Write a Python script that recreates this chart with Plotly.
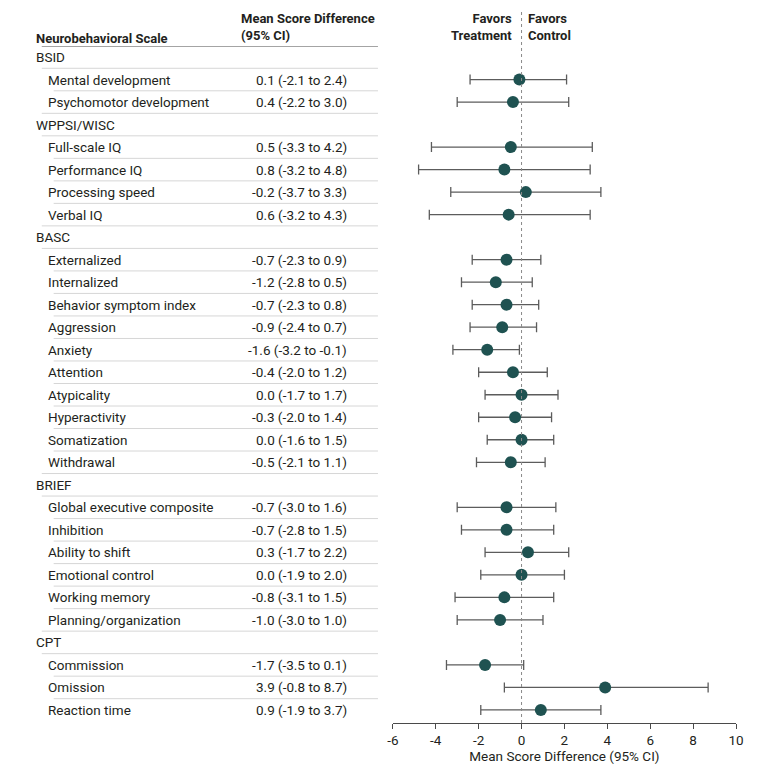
import plotly.graph_objects as go

# ---------------- data ----------------
group_names = ["BSID", "WPPSI/WISC", "BASC", "BRIEF", "CPT"]
# direction in which a group's differences are drawn on the axis (cognitive scores reversed)
group_plot_sign = [-1, -1, 1, 1, 1]

scale_labels = [
    "Mental development", "Psychomotor development",
    "Full-scale IQ", "Performance IQ", "Processing speed", "Verbal IQ",
    "Externalized", "Internalized", "Behavior symptom index", "Aggression", "Anxiety",
    "Attention", "Atypicality", "Hyperactivity", "Somatization", "Withdrawal",
    "Global executive composite", "Inhibition", "Ability to shift", "Emotional control",
    "Working memory", "Planning/organization",
    "Commission", "Omission", "Reaction time",
]
scale_group = [0, 0, 1, 1, 1, 1, 2, 2, 2, 2, 2, 2, 2, 2, 2, 2, 3, 3, 3, 3, 3, 3, 4, 4, 4]
estimate = [0.1, 0.4, 0.5, 0.8, -0.2, 0.6, -0.7, -1.2, -0.7, -0.9, -1.6, -0.4, 0.0, -0.3, 0.0,
            -0.5, -0.7, -0.7, 0.3, 0.0, -0.8, -1.0, -1.7, 3.9, 0.9]
ci_low = [-2.1, -2.2, -3.3, -3.2, -3.7, -3.2, -2.3, -2.8, -2.3, -2.4, -3.2, -2.0, -1.7, -2.0, -1.6,
          -2.1, -3.0, -2.8, -1.7, -1.9, -3.1, -3.0, -3.5, -0.8, -1.9]
ci_high = [2.4, 3.0, 4.2, 4.8, 3.3, 4.3, 0.9, 0.5, 0.8, 0.7, -0.1, 1.2, 1.7, 1.4, 1.5, 1.1, 1.6,
           1.5, 2.2, 2.0, 1.5, 1.0, 0.1, 8.7, 3.7]
tick_values = [-6, -4, -2, 0, 2, 4, 6, 8, 10]
tick_labels = ["-6", "-4", "-2", "0", "2", "4", "6", "8", "10"]

# ---------------- build rows ----------------
rows = []  # (kind, label, index)
prev = None
for i, g in enumerate(scale_group):
    if g != prev:
        rows.append(("header", group_names[g], None))
        prev = g
    rows.append(("item", scale_labels[i], i))

OFF = 8          # page body margin
FIG_W, FIG_H = 780 - OFF, 775 - OFF
R_MARGIN = 44
W = FIG_W - R_MARGIN  # paper width in px


def px(x):
    """page pixel x -> paper x"""
    return (x - OFF) / W


def ppy(py):
    """page pixel y -> paper y (plot from 46 to 723 on page)"""
    return (723 - py) / 677


FONT = "Roboto, Arial, sans-serif"
TXT = "#231f20"
FS = 13.5
LPAD = 8   # annotation box padding compensation (left anchored)
RPAD = 2

pt_x, pt_y, err_p, err_m = [], [], [], []
annotations = []
shapes = []
for r, (kind, label, idx) in enumerate(rows):
    if kind == "header":
        annotations.append(dict(x=px(36 - LPAD), y=r, xref="paper", yref="y", text=label,
                                showarrow=False, xanchor="left", yanchor="middle",
                                font=dict(family=FONT, size=FS, color=TXT)))
    else:
        annotations.append(dict(x=px(48 - LPAD), y=r, xref="paper", yref="y", text=label,
                                showarrow=False, xanchor="left", yanchor="middle",
                                font=dict(family=FONT, size=FS, color=TXT)))
        e, lo, hi = estimate[idx], ci_low[idx], ci_high[idx]
        txt = f"{e:.1f} ({lo:.1f} to {hi:.1f})"
        annotations.append(dict(x=px(348 - RPAD), y=r, xref="paper", yref="y", text=txt,
                                showarrow=False, xanchor="right", yanchor="middle",
                                font=dict(family=FONT, size=FS, color=TXT)))
        s = group_plot_sign[scale_group[idx]]
        pe, pa, pb = s * e, s * lo, s * hi
        plo, phi = min(pa, pb), max(pa, pb)
        pt_x.append(pe)
        pt_y.append(r)
        err_p.append(phi - pe)
        err_m.append(pe - plo)
    # separator line below row
    if r < len(rows) - 1:
        nxt = rows[r + 1][0]
        x0 = 36 if (nxt == "header" or kind == "header") else 48
        shapes.append(dict(type="line", xref="paper", yref="y", x0=px(x0), x1=px(375),
                           y0=r + 0.5, y1=r + 0.5, line=dict(color="#d6d6d6", width=1)))

# header underline
shapes.append(dict(type="line", xref="paper", yref="y", x0=px(36), x1=px(375),
                   y0=-0.5, y1=-0.5, line=dict(color="#4a4a4a", width=1.5)))
# reference line at zero
shapes.append(dict(type="line", xref="x", yref="paper", x0=0, x1=0, y0=0, y1=ppy(12),
                   line=dict(color="#8a8a8a", width=1, dash="dot")))

HB = 13
annotations += [
    dict(x=px(36 - LPAD), y=ppy(38), xref="paper", yref="paper", text="<b>Neurobehavioral Scale</b>",
         showarrow=False, xanchor="left", yanchor="middle", font=dict(family=FONT, size=HB, color=TXT)),
    dict(x=px(243 - LPAD), y=ppy(27), xref="paper", yref="paper",
         text="<b>Mean Score Difference</b><br><b>(95% CI)</b>", align="left",
         showarrow=False, xanchor="left", yanchor="middle", font=dict(family=FONT, size=HB, color=TXT)),
    dict(x=0, y=ppy(27), xref="x", yref="paper", text="<b>Favors</b><br><b>Treatment</b>",
         align="right", showarrow=False, xanchor="right", yanchor="middle", xshift=-8,
         font=dict(family=FONT, size=HB, color=TXT)),
    dict(x=0, y=ppy(27), xref="x", yref="paper", text="<b>Favors</b><br><b>Control</b>",
         align="left", showarrow=False, xanchor="left", yanchor="middle", xshift=4,
         font=dict(family=FONT, size=HB, color=TXT)),
]

fig = go.Figure()
fig.add_trace(go.Scatter(
    x=pt_x, y=pt_y, mode="markers",
    marker=dict(size=12, color="#1f5251"),
    error_x=dict(type="data", symmetric=False, array=err_p, arrayminus=err_m,
                 color="#5c5c5c", thickness=1.3, width=5),
    showlegend=False, hoverinfo="skip", cliponaxis=False,
))

fig.update_layout(
    width=FIG_W, height=FIG_H,
    margin=dict(l=0, r=R_MARGIN, t=46 - OFF, b=FIG_H - (723 - OFF)),
    paper_bgcolor="white", plot_bgcolor="white",
    font=dict(family=FONT, size=FS, color=TXT),
    shapes=shapes, annotations=annotations,
    xaxis=dict(domain=[px(390), 1], range=[-6, 10], tickvals=tick_values, ticktext=tick_labels,
               showgrid=False, zeroline=False, showline=True, linecolor="#4a4a4a", linewidth=1,
               ticks="outside", ticklen=5, tickcolor="#4a4a4a", tickwidth=1,
               tickfont=dict(family=FONT, size=FS, color=TXT),
               title=dict(text="Mean Score Difference (95% CI)", standoff=4,
                          font=dict(family=FONT, size=FS, color=TXT))),
    yaxis=dict(range=[len(rows) - 1 + 0.58, -0.49], visible=False, fixedrange=True),
)

fig.write_html("out.html")
